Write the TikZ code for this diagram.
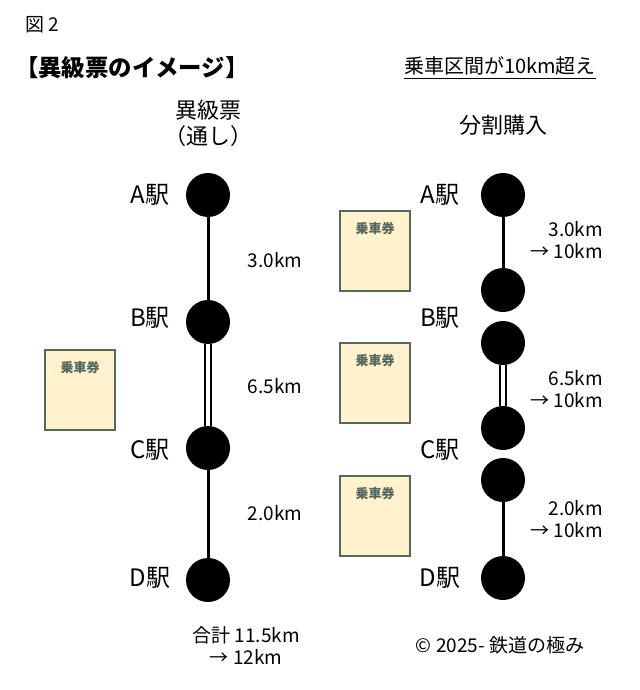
\documentclass[tikz,border=0pt]{standalone}
\usepackage{fontspec}
\setmainfont{Noto Sans CJK JP}
\definecolor{tkfill}{RGB}{255,242,204}
\definecolor{tkline}{RGB}{85,105,95}
\begin{document}
\begin{tikzpicture}[x=0.5pt,y=-0.5pt,
  st/.style={circle,fill=black,minimum size=22pt,inner sep=0pt},
  lbl/.style={font=\fontsize{9.5}{11}\selectfont},
  sl/.style={font=\fontsize{12}{13}\selectfont},
  hd/.style={font=\fontsize{11}{13}\selectfont},
  tk/.style={draw=tkline,line width=1.3pt,fill=tkfill,minimum width=35pt,minimum height=40pt,inner sep=0pt},
  tt/.style={font=\fontsize{6.5}{7}\selectfont\bfseries,text=tkline},
  ln/.style={line width=1.5pt},
  dbl/.style={double distance=2pt,line width=1.2pt}]
\useasboundingbox (0,0) rectangle (640,690);
\node[lbl,anchor=west] (fig) at (18,25) {図 2};
\node[anchor=west,font=\fontsize{11.7}{13}\selectfont\bfseries] (ttl) at (8,68) {【異級票のイメージ】};
\node[font=\fontsize{10}{12}\selectfont] (cond) at (500,68) {\underline{乗車区間が10km超え}};
\node[hd,align=center] (h1) at (208,123) {異級票\\（通し）};
\node[hd] (h2) at (503,125) {分割購入};
% left
\node[st] (la) at (208,195) {};
\node[st] (lb) at (208,322) {};
\node[st] (lc) at (208,448) {};
\node[st] (ld) at (208,580) {};
\draw[ln] (la)--(lb); \draw[dbl] (lb)--(lc); \draw[ln] (lc)--(ld);
\foreach \nn/\y in {A/195,B/318,C/450,D/578}
  \node[sl] (l\nn) at (150,\y) {\nn{}駅};
\node[lbl] (d1) at (275,260) {3.0km};
\node[lbl] (d2) at (275,386) {6.5km};
\node[lbl] (d3) at (275,513) {2.0km};
\node[tk] (t0) at (80,390) {};
\node[tt] at (80,368) {乗車券};
\node[lbl,align=center] (sum) at (246,646) {合計 11.5km\\→ 12km};
% right
\node[st] (ra) at (503,195) {};
\node[st] (rb1) at (503,290) {};
\node[st] (rb2) at (503,343) {};
\node[st] (rc1) at (503,428) {};
\node[st] (rc2) at (503,480) {};
\node[st] (rd) at (503,578) {};
\draw[ln] (ra)--(rb1); \draw[dbl] (rb2)--(rc1); \draw[ln] (rc2)--(rd);
\foreach \nn/\y in {A/195,B/318,C/450,D/578}
  \node[sl] (r\nn) at (440,\y) {\nn{}駅};
\foreach \k/\dd/\y in {1/3.0/240,2/6.5/389,3/2.0/519}
  \node[lbl,align=right,anchor=east] (rd\k) at (610,\y) {\dd{}km\\→ 10km};
\foreach \k/\y in {1/251,2/383,3/516}{
  \node[tk] (rt\k) at (375,\y) {};
  \node[tt] at (375,\y-22) {乗車券};}
\node[lbl] (copy) at (500,645) {© 2025- 鉄道の極み};
\end{tikzpicture}
\end{document}
